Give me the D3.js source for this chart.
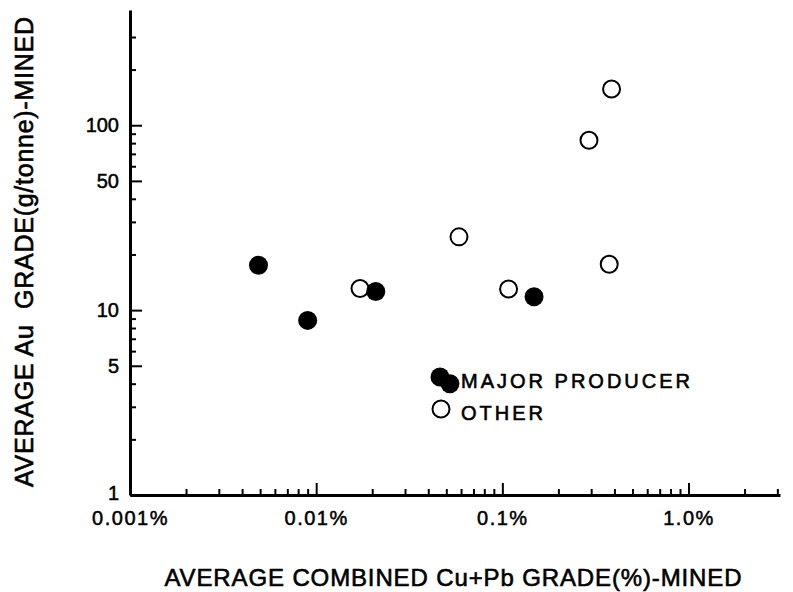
<!DOCTYPE html>
<html>
<head>
<meta charset="utf-8">
<script src="https://d3js.org/d3.v7.min.js"></script>
<style>
    body { margin: 0; background: #fff; }
    svg { display: block; }
    .axis path, .axis line { stroke: #000; }
    .axis text { font-family: "Liberation Sans", Arial, sans-serif; font-size: 20px; fill: #000; stroke: #000; stroke-width: 0.5px; }
    .title { font-family: "Liberation Sans", Arial, sans-serif; fill: #000; stroke: #000; stroke-width: 0.6px; }
</style>
</head>
<body>
<div id="chart"></div>
<script>
    // Cu+Pb grade (%) and Au grade (g/tonne)
    var majorCuPb = [0.0049, 0.0090, 0.0209, 0.148, 0.0523];
    var majorAu = [17.5, 8.8, 12.6, 11.8, 4.0];
    var otherCuPb = [0.0172, 0.0585, 0.108, 0.292, 0.386, 0.375];
    var otherAu = [13.1, 24.9, 13.0, 83, 157, 17.7];

    // tick values
    var xMajorTicks = [0.001, 0.01, 0.1, 1];
    var xTickLabels = ["0.001%", "0.01%", "0.1%", "1.0%"];
    var xMinorTicks = [0.002, 0.003, 0.004, 0.005, 0.006, 0.007, 0.008, 0.009,
        0.02, 0.03, 0.04, 0.05, 0.06, 0.07, 0.08, 0.09,
        0.2, 0.3, 0.4, 0.5, 0.6, 0.7, 0.8, 0.9, 2, 3];
    var yMajorTicks = [1, 5, 10, 50, 100];
    var yMinorTicks = [2, 3, 4, 6, 7, 8, 9, 20, 30, 40, 60, 70, 80, 90, 200, 300];

    var legendItems = ["MAJOR PRODUCER", "OTHER"];

    var width = 793, height = 592;

    var svg = d3.select("#chart").append("svg")
        .attr("width", width)
        .attr("height", height);

    svg.append("rect").attr("width", width).attr("height", height).attr("fill", "#fff");

    var x = d3.scaleLog().domain([0.001, 3.1]).range([130, 780]);
    var y = d3.scaleLog().domain([1, 420]).range([495, 10]);

    // minor ticks first, no labels
    svg.append("g").attr("class", "axis")
        .attr("transform", "translate(0," + y(1) + ")")
        .call(d3.axisBottom(x).tickValues(xMinorTicks).tickSizeInner(-6).tickSizeOuter(0).tickFormat(""))
        .call(function (g) { g.select(".domain").remove(); g.selectAll("line").attr("stroke-width", 2); });

    svg.append("g").attr("class", "axis")
        .attr("transform", "translate(" + x(0.001) + ",0)")
        .call(d3.axisLeft(y).tickValues(yMinorTicks).tickSizeInner(-6).tickSizeOuter(0).tickFormat(""))
        .call(function (g) { g.select(".domain").remove(); g.selectAll("line").attr("stroke-width", 2); });

    // major ticks + labels
    var xAxis = svg.append("g").attr("class", "axis")
        .attr("transform", "translate(0," + y(1) + ")")
        .call(d3.axisBottom(x).tickValues(xMajorTicks).tickSizeInner(-12).tickSizeOuter(0).tickPadding(16)
            .tickFormat(function (d, i) { return xTickLabels[i]; }));
    xAxis.select(".domain").attr("stroke-width", 3);
    xAxis.selectAll("line").attr("stroke-width", 2);
    xAxis.selectAll("text").attr("letter-spacing", "1.5px");

    var yAxis = svg.append("g").attr("class", "axis")
        .attr("transform", "translate(" + x(0.001) + ",0)")
        .call(d3.axisLeft(y).tickValues(yMajorTicks).tickSizeInner(-12).tickSizeOuter(0).tickPadding(11)
            .tickFormat(d3.format("d")));
    yAxis.select(".domain").attr("stroke-width", 3);
    yAxis.selectAll("line").attr("stroke-width", 2);
    yAxis.selectAll("text").filter(function (d) { return d === 1; }).attr("dy", "0.2em");

    // points: open ones first, filled drawn on top
    svg.append("g").selectAll("circle")
        .data(otherCuPb)
        .join("circle")
        .attr("cx", function (d) { return x(d); })
        .attr("cy", function (d, i) { return y(otherAu[i]); })
        .attr("r", 8.5)
        .attr("fill", "#fff")
        .attr("stroke", "#000")
        .attr("stroke-width", 2);

    svg.append("g").selectAll("circle")
        .data(majorCuPb)
        .join("circle")
        .attr("cx", function (d) { return x(d); })
        .attr("cy", function (d, i) { return y(majorAu[i]); })
        .attr("r", 9.5)
        .attr("fill", "#000");

    // legend
    var legend = svg.append("g").attr("transform", "translate(440,377)");
    legend.append("circle").attr("r", 9.5).attr("fill", "#000");
    legend.append("circle").attr("cx", 1).attr("cy", 32).attr("r", 8.5)
        .attr("fill", "#fff").attr("stroke", "#000").attr("stroke-width", 2);
    legend.selectAll("text")
        .data(legendItems)
        .join("text")
        .attr("class", "title")
        .attr("x", 21)
        .attr("y", function (d, i) { return 11 + i * 32; })
        .attr("font-size", "20px")
        .attr("letter-spacing", "3px")
        .text(function (d) { return d; });

    // axis titles
    svg.append("text")
        .attr("class", "title")
        .attr("x", 453)
        .attr("y", 586)
        .attr("text-anchor", "middle")
        .attr("font-size", "24px")
        .attr("textLength", 577)
        .attr("lengthAdjust", "spacing")
        .text("AVERAGE COMBINED Cu+Pb GRADE(%)-MINED");

    svg.append("text")
        .attr("class", "title")
        .attr("transform", "translate(33,252) rotate(-90)")
        .attr("text-anchor", "middle")
        .attr("font-size", "25px")
        .attr("textLength", 470)
        .attr("lengthAdjust", "spacing")
        .attr("xml:space", "preserve")
        .text("AVERAGE Au  GRADE(g/tonne)-MINED");
</script>
</body>
</html>
